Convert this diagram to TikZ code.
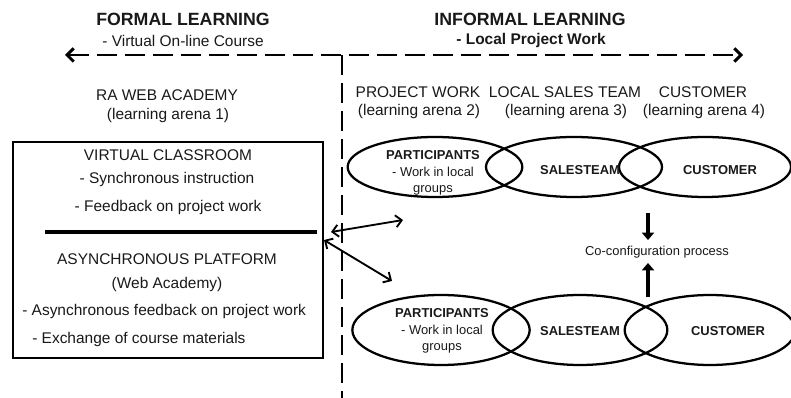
\documentclass[tikz,border=0pt]{standalone}
\usepackage{fontspec}
\setmainfont{Liberation Sans}
\usetikzlibrary{arrows.meta,shapes.geometric,positioning}

\definecolor{ink}{gray}{0.1}

\begin{document}
\begin{tikzpicture}[x=0.75pt, y=-0.75pt,
  txt/.style = {text=ink, font=\fontsize{11.6}{14}\selectfont, inner sep=0pt},
  head/.style = {text=ink, font=\fontsize{13.3}{16}\bfseries, inner sep=0pt},
  small/.style = {text=ink, font=\fontsize{9.7}{12.4}\selectfont, inner sep=0pt, align=center},
  arena/.style = {draw, ellipse, line width=1.7pt, inner sep=0pt},
  dashline/.style = {line width=2.2pt, dash pattern=on 15pt off 6pt},
  barb/.style = {line width=1.4pt, {Straight Barb[length=4.5pt,width=9pt]}-{Straight Barb[length=4.5pt,width=9pt]}},
  fat/.style = {line width=3.5pt, -{Triangle[length=5.5pt,width=9pt]}}]
\useasboundingbox (0,0) rectangle (791,398);

% headings
\node[head] (formal) at (183,19) {FORMAL LEARNING};
\node[txt] (formalsub) at (183,41) {- Virtual On-line Course};
\node[head] (informal) at (530,19) {INFORMAL LEARNING};
\node[txt, font=\fontsize{11.6}{14}\bfseries] (informalsub) at (531,41) {- Local Project Work};

% the two directions
\coordinate (L) at (65,55);
\coordinate (R) at (743,55);
\coordinate (top) at (342,55);
\coordinate (bot) at (342,398);
\draw[dashline, {Straight Barb[length=5pt,width=10pt]}-{Straight Barb[length=5pt,width=10pt]}] (L) -- (R);
\draw[dashline] (top) -- (bot);

% arenas
\node[txt] (ra) at (167,95) {RA WEB ACADEMY};
\node[txt] (ra1) at (168,116) {(learning arena 1)};
\node[txt] (pw) at (418,92) {PROJECT WORK};
\node[txt] (pw2) at (419,112) {(learning arena 2)};
\node[txt] (lst) at (565,92) {LOCAL SALES TEAM};
\node[txt] (lst3) at (566,112) {(learning arena 3)};
\node[txt] (cu) at (703,92) {CUSTOMER};
\node[txt] (cu4) at (704,112) {(learning arena 4)};

% web academy box
\node[draw, line width=1.5pt, minimum width=232.5pt, minimum height=162pt, inner sep=0pt] (academy) at (168,250) {};
\node[txt] (vc) at (168,155) {VIRTUAL CLASSROOM};
\node[txt] (vc1) at (167,180) {- Synchronous instruction};
\node[txt] (vc2) at (168,208) {- Feedback on project work};
\draw[line width=2.4pt] (45,232) -- (317,232);
\node[txt] (ap) at (167,259) {ASYNCHRONOUS PLATFORM};
\node[txt] (ap0) at (167,285) {(Web Academy)};
\node[txt, anchor=west] (ap1) at (22,312) {- Asynchronous feedback on project work};
\node[txt, anchor=west] (ap2) at (32,340) {- Exchange of course materials};

% upper group
\node[arena, minimum width=131pt, minimum height=45pt] (p1) at (435,167) {};
\node[arena, minimum width=132pt, minimum height=45pt] (s1) at (574,167) {};
\node[arena, minimum width=129pt, minimum height=45pt] (c1) at (705,167) {};
\node[small] (p1t) at (433,173) {\textbf{PARTICIPANTS}\\- Work in local\\groups};
\node[small, font=\fontsize{9.7}{12.4}\bfseries] (s1t) at (580,170) {SALESTEAM};
\node[small, font=\fontsize{9.7}{12.4}\bfseries] (c1t) at (720,170) {CUSTOMER};

% lower group
\node[arena, minimum width=133pt, minimum height=52.5pt] (p2) at (441,330) {};
\node[arena, minimum width=131pt, minimum height=52.5pt] (s2) at (580,330) {};
\node[arena, minimum width=128pt, minimum height=52.5pt] (c2) at (710,330) {};
\node[small] (p2t) at (442,331) {\textbf{PARTICIPANTS}\\- Work in local\\groups};
\node[small, font=\fontsize{9.7}{12.4}\bfseries] (s2t) at (580,331) {SALESTEAM};
\node[small, font=\fontsize{9.7}{12.4}\bfseries] (c2t) at (728,331) {CUSTOMER};

% co-configuration
\node[small] (cfg) at (657,252) {Co-configuration process};
\coordinate (dn) at (648,213);
\coordinate (dnend) at (648,240);
\coordinate (up) at (648,297);
\coordinate (upend) at (648,263);
\draw[fat] (dn) -- (dnend);
\draw[fat] (up) -- (upend);

% links between the box and the groups
\coordinate (h1) at (331,232);
\coordinate (g1) at (403,220);
\coordinate (h2) at (324,240);
\coordinate (g2) at (392,281);
\draw[barb] (h1) -- (g1);
\draw[barb] (h2) -- (g2);
\end{tikzpicture}
\end{document}
